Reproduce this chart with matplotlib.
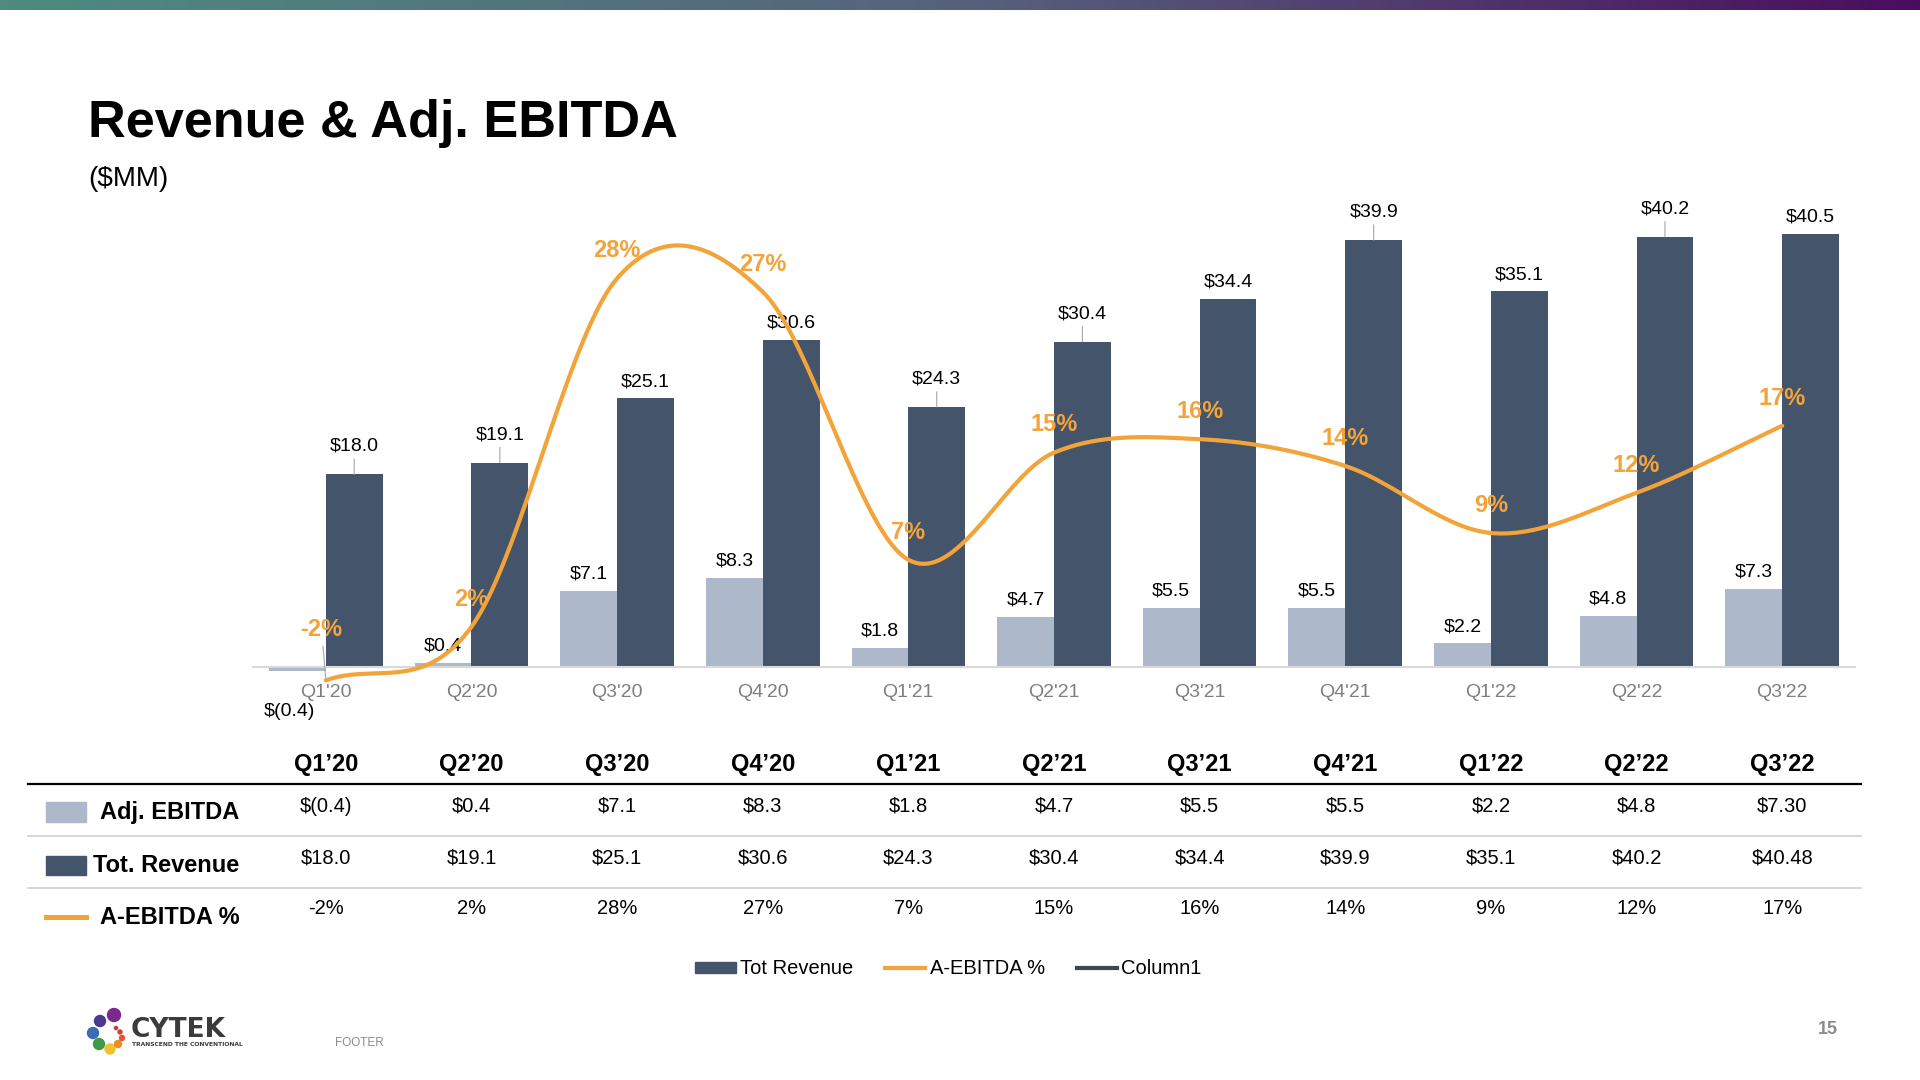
import numpy as np
import matplotlib
matplotlib.use('Agg')
import matplotlib.pyplot as plt
import matplotlib.transforms as mtransforms
from matplotlib.colors import LinearSegmentedColormap
from matplotlib.patches import Patch, Circle, Rectangle
from matplotlib.lines import Line2D

plt.rcParams['font.family'] = ['Liberation Sans', 'DejaVu Sans']

# data
quarters = ["Q1'20", "Q2'20", "Q3'20", "Q4'20", "Q1'21", "Q2'21",
            "Q3'21", "Q4'21", "Q1'22", "Q2'22", "Q3'22"]
table_quarters = ["Q1’20", "Q2’20", "Q3’20", "Q4’20", "Q1’21", "Q2’21",
                  "Q3’21", "Q4’21", "Q1’22", "Q2’22", "Q3’22"]
adj_ebitda = [-0.4, 0.4, 7.1, 8.3, 1.8, 4.7, 5.5, 5.5, 2.2, 4.8, 7.3]
tot_revenue = [18.0, 19.1, 25.1, 30.6, 24.3, 30.4, 34.4, 39.9, 35.1, 40.2, 40.48]
ebitda_pct = [-2, 2, 28, 27, 7, 15, 16, 14, 9, 12, 17]
ebitda_row = ['$(0.4)', '$0.4', '$7.1', '$8.3', '$1.8', '$4.7', '$5.5',
              '$5.5', '$2.2', '$4.8', '$7.30']
revenue_row = ['$18.0', '$19.1', '$25.1', '$30.6', '$24.3', '$30.4', '$34.4',
               '$39.9', '$35.1', '$40.2', '$40.48']
pct_row = ['-2%', '2%', '28%', '27%', '7%', '15%', '16%', '14%', '9%', '12%', '17%']

# which revenue labels sit higher with a small leader line (layout only)
rev_leader = [1, 1, 0, 0, 1, 1, 0, 1, 0, 1, 0]

REV = '#44546A'
EBT = '#ADB9CA'
ORG = '#F2A33A'
GRAY = '#7F7F7F'


def money(v):
    return f'$({abs(v):.1f})' if v < 0 else f'${v:.1f}'


def smooth(ys, n=40):
    # catmull-rom style smoothing, like the "smoothed line" option in Excel
    ys = np.asarray(ys, float)
    m = np.zeros_like(ys)
    m[1:-1] = (ys[2:] - ys[:-2]) / 2
    m[0] = ys[1] - ys[0]
    m[-1] = ys[-1] - ys[-2]
    t = np.linspace(0, 1, n)
    h00 = 2 * t**3 - 3 * t**2 + 1
    h10 = t**3 - 2 * t**2 + t
    h01 = -2 * t**3 + 3 * t**2
    h11 = t**3 - t**2
    xs_out, ys_out = [], []
    for i in range(len(ys) - 1):
        xs_out.append(i + t)
        ys_out.append(h00 * ys[i] + h10 * m[i] + h01 * ys[i + 1] + h11 * m[i + 1])
    return np.concatenate(xs_out), np.concatenate(ys_out)


fig = plt.figure(figsize=(19.2, 10.8), dpi=100)

# decoration layer in pixel coordinates
deco = fig.add_axes([0, 0, 1, 1])
deco.set_xlim(0, 1920)
deco.set_ylim(1080, 0)
deco.axis('off')

# gradient strip on top
cmap = LinearSegmentedColormap.from_list('strip', ['#4E8B80', '#57627C', '#4A0D5E'])
gax = fig.add_axes([0, 1 - 10 / 1080, 1, 10 / 1080])
gax.imshow(np.linspace(0, 1, 512)[None, :], aspect='auto', cmap=cmap)
gax.axis('off')

fig.text(88 / 1920, 1 - 137 / 1080, 'Revenue & Adj. EBITDA', fontsize=37.6,
         fontweight='bold', va='baseline', ha='left')
fig.text(88 / 1920, 1 - 179 / 1080, '($MM)', fontsize=20, va='center', ha='left')

# main chart
ax = fig.add_axes([253 / 1920, 1 - 667 / 1080, 1602 / 1920, 467 / 1080])
x = np.arange(len(quarters))
w = 0.39
ax.bar(x - w / 2, adj_ebitda, w, color=EBT, clip_on=False, zorder=2)
ax.bar(x + w / 2, tot_revenue, w, color=REV, zorder=2)
ax.set_xlim(-0.5, 10.5)
ax.set_ylim(0, 467 / 10.7)
for s in ['top', 'left', 'right']:
    ax.spines[s].set_visible(False)
ax.spines['bottom'].set_color('#D9D9D9')
ax.spines['bottom'].set_linewidth(1.5)
ax.set_yticks([])
ax.set_xticks(x, quarters)
ax.tick_params(axis='x', length=0, pad=12, labelsize=14, labelcolor=GRAY)

for i, v in enumerate(tot_revenue):
    if rev_leader[i]:
        ax.annotate(money(v), (i + w / 2, v), xytext=(0, 14), textcoords='offset points',
                    ha='center', va='bottom', fontsize=14,
                    arrowprops=dict(arrowstyle='-', color='#A6A6A6', lw=0.8,
                                    shrinkA=1, shrinkB=0))
    else:
        ax.annotate(money(v), (i + w / 2, v), xytext=(0, 6), textcoords='offset points',
                    ha='center', va='bottom', fontsize=14)

for i, v in enumerate(adj_ebitda):
    if v < 0:
        ax.annotate(money(v), (i - w / 2, v), xytext=(-6, -29), textcoords='offset points',
                    ha='center', va='center', fontsize=14, annotation_clip=False)
    else:
        ax.annotate(money(v), (i - w / 2, v), xytext=(0, 6), textcoords='offset points',
                    ha='center', va='bottom', fontsize=14)

# A-EBITDA % on its own scale
ax2 = ax.twinx()
ax2.set_ylim(-1.0, 33.85)
ax2.axis('off')
sx, sy = smooth(ebitda_pct)
ax2.plot(sx, sy, color=ORG, lw=3, clip_on=False, solid_capstyle='round', zorder=3)
for i, p in enumerate(ebitda_pct):
    if i == 0:
        ax2.annotate(f'{p}%', (i, p), xytext=(-3, 37), textcoords='offset points',
                     ha='center', va='center', color=ORG, fontsize=17, fontweight='bold',
                     annotation_clip=False,
                     arrowprops=dict(arrowstyle='-', color='#A6A6A6', lw=0.8,
                                     shrinkA=2, shrinkB=0))
    else:
        ax2.annotate(f'{p}%', (i, p), xytext=(0, 20), textcoords='offset points',
                     ha='center', va='center', color=ORG, fontsize=17, fontweight='bold')

# data table under the chart
tr = mtransforms.blended_transform_factory(ax.transData, deco.transData)
for i in range(len(quarters)):
    deco.text(i, 765, table_quarters[i], transform=tr, ha='center', va='center',
              fontsize=17, fontweight='bold')
    deco.text(i, 806, ebitda_row[i], transform=tr, ha='center', va='center', fontsize=14.5)
    deco.text(i, 858, revenue_row[i], transform=tr, ha='center', va='center', fontsize=14.5)
    deco.text(i, 909, pct_row[i], transform=tr, ha='center', va='center', fontsize=14.5)

deco.plot([28, 1861], [784, 784], color='black', lw=1.6)
deco.plot([28, 1861], [836, 836], color='#D0D0D0', lw=1.2)
deco.plot([28, 1861], [888, 888], color='#D0D0D0', lw=1.2)

deco.add_patch(Rectangle((46, 802), 40, 20, color=EBT))
deco.add_patch(Rectangle((46, 856), 40, 19, color=REV))
deco.plot([46, 86], [917, 917], color=ORG, lw=3.6)
deco.text(100, 813, 'Adj. EBITDA', fontsize=17, fontweight='bold', va='center')
deco.text(93, 865, 'Tot. Revenue', fontsize=17, fontweight='bold', va='center')
deco.text(100, 917, 'A-EBITDA %', fontsize=17, fontweight='bold', va='center')

handles = [Patch(color=REV), Line2D([], [], color=ORG, lw=3),
           Line2D([], [], color='#3F4652', lw=3)]
fig.legend(handles, ['Tot Revenue', 'A-EBITDA %', 'Column1'], loc='center',
           bbox_to_anchor=(0.494, 1 - 969 / 1080), ncol=3, frameon=False, fontsize=14.5,
           handlelength=2.0, handleheight=0.5, handletextpad=0.2, columnspacing=1.6)

# logo
dots = [(114, 1015, 6.5, '#7A2A8C'), (100, 1021, 5.5, '#4B3A8F'), (93, 1033, 5.5, '#3B6DB5'),
        (99, 1044, 5.5, '#3E9A48'), (110, 1049, 5, '#F2C12E'), (118, 1044, 3.5, '#F08A2B'),
        (122, 1038, 2.5, '#E5532B'), (120, 1032, 2, '#D8402E'), (116, 1028, 1.6, '#C93A3A')]
for cx, cy, r, c in dots:
    deco.add_patch(Circle((cx, cy), r, color=c))
deco.text(131, 1030, 'CYTEK', fontsize=19, fontweight='bold', color='#3B3B3B',
          va='center', ha='left', family='DejaVu Sans')
deco.text(132, 1044, 'TRANSCEND THE CONVENTIONAL', fontsize=4.3, fontweight='bold',
          color='#3B3B3B', va='center', ha='left', family='DejaVu Sans')

deco.text(335, 1043, 'FOOTER', fontsize=8.5, color='#8C8C8C', va='center')
deco.text(1828, 1030, '15', fontsize=13, color='#8C8C8C', fontweight='bold',
          va='center', ha='center')

fig.savefig('out.png', dpi=100)
